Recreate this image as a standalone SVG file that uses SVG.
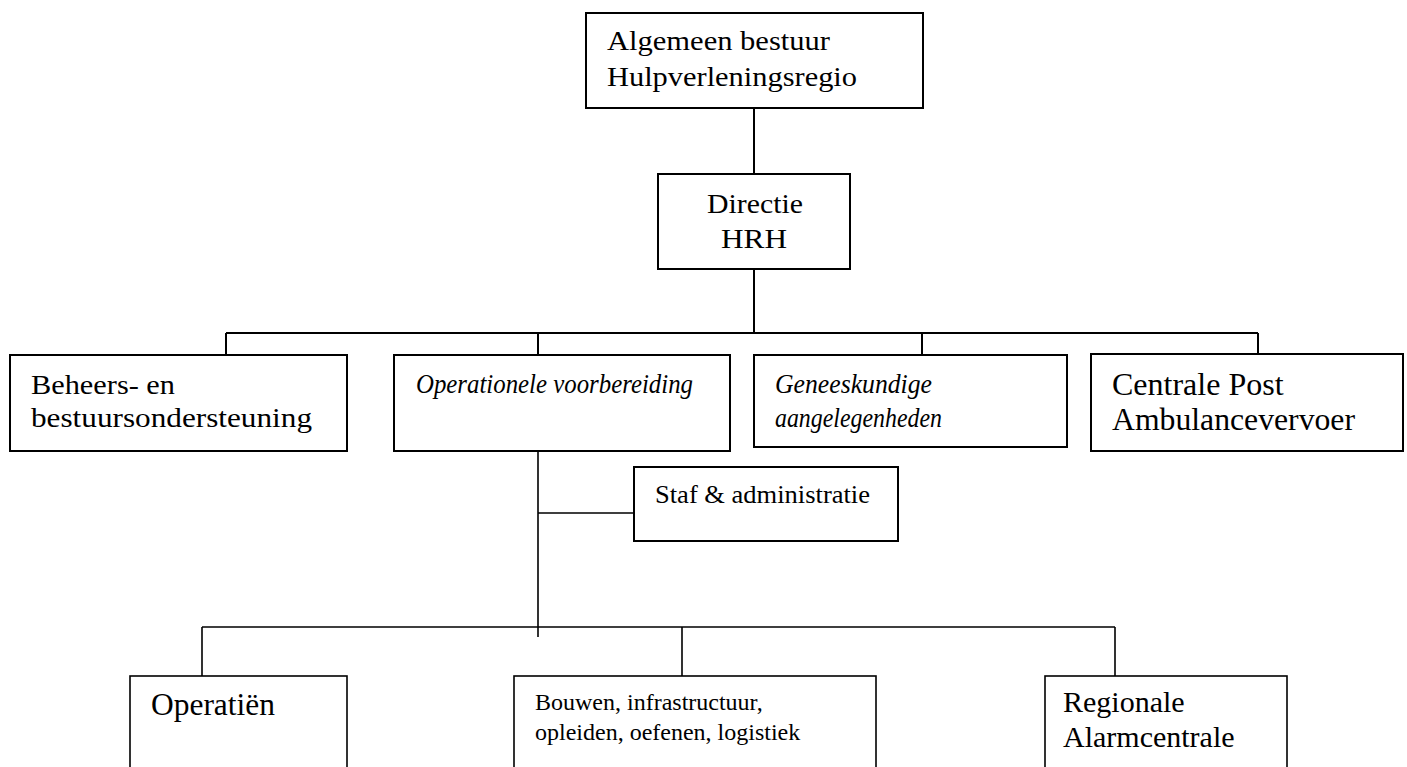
<svg xmlns="http://www.w3.org/2000/svg" width="1407" height="767" viewBox="0 0 1407 767">
<style>
.box{fill:#fff;stroke:#000;stroke-width:2}
.box2{fill:#fff;stroke:#000;stroke-width:1.6}
.ln{stroke:#000;stroke-width:2;fill:none}
.ln2{stroke:#000;stroke-width:1.6;fill:none}
.g{font-family:"Liberation Serif","Times New Roman",serif;font-size:28px;fill:#000}
.gi{font-family:"Liberation Serif","Times New Roman",serif;font-size:27px;font-style:italic;fill:#000}
.t{font-family:"Liberation Serif","Times New Roman",serif;fill:#000}
</style>
<rect width="1407" height="767" fill="#fff"/>
<g id="connectors">
<path class="ln" d="M754 108V174M754 269V333M226 333H1258M226 333V355M538 333V355M922 333V355M1258 333V354"/>
<path class="ln2" d="M538 451V637M538 513H634M202 627H1115M202 627V676M682 627V676M1115 627V676"/>
</g>
<g id="n-algemeen">
<rect class="box" x="586" y="13" width="337" height="95"/>
<text class="g" x="607" y="50" textLength="223" lengthAdjust="spacingAndGlyphs">Algemeen bestuur</text>
<text class="g" x="607" y="86" textLength="250" lengthAdjust="spacingAndGlyphs">Hulpverleningsregio</text>
</g>
<g id="n-directie">
<rect class="box" x="658" y="174" width="192" height="95"/>
<text class="g" x="707" y="213" textLength="96" lengthAdjust="spacingAndGlyphs">Directie</text>
<text class="g" x="721" y="248" textLength="66" lengthAdjust="spacingAndGlyphs">HRH</text>
</g>
<g id="n-beheers">
<rect class="box" x="10" y="355" width="337" height="96"/>
<text class="g" x="31" y="394" textLength="144" lengthAdjust="spacingAndGlyphs">Beheers- en</text>
<text class="g" x="31" y="427" textLength="281" lengthAdjust="spacingAndGlyphs">bestuursondersteuning</text>
</g>
<g id="n-operationele">
<rect class="box" x="394" y="355" width="336" height="96"/>
<text class="gi" x="416" y="393" textLength="277" lengthAdjust="spacingAndGlyphs">Operationele voorbereiding</text>
</g>
<g id="n-geneeskundige">
<rect class="box" x="754" y="355" width="313" height="92"/>
<text class="gi" x="775" y="393" textLength="157" lengthAdjust="spacingAndGlyphs">Geneeskundige</text>
<text class="gi" x="775" y="427" textLength="167" lengthAdjust="spacingAndGlyphs">aangelegenheden</text>
</g>
<g id="n-centrale">
<rect class="box" x="1091" y="354" width="312" height="97"/>
<text class="t" x="1112" y="395" font-size="32">Centrale Post</text>
<text class="t" x="1112" y="430" font-size="32" textLength="243" lengthAdjust="spacingAndGlyphs">Ambulancevervoer</text>
</g>
<g id="n-staf">
<rect class="box" x="634" y="467" width="264" height="74"/>
<text class="t" x="655" y="503" font-size="26" textLength="215" lengthAdjust="spacingAndGlyphs">Staf &amp; administratie</text>
</g>
<g id="n-operatien">
<rect class="box2" x="130" y="676" width="217" height="130"/>
<text class="t" x="151" y="715" font-size="31" textLength="124" lengthAdjust="spacingAndGlyphs">Operatiën</text>
</g>
<g id="n-bouwen">
<rect class="box2" x="514" y="676" width="362" height="130"/>
<text class="t" x="535" y="710" font-size="24">Bouwen, infrastructuur,</text>
<text class="t" x="535" y="740" font-size="24">opleiden, oefenen, logistiek</text>
</g>
<g id="n-regionale">
<rect class="box2" x="1045" y="676" width="242" height="130"/>
<text class="t" x="1063" y="712" font-size="30">Regionale</text>
<text class="t" x="1063" y="747" font-size="30">Alarmcentrale</text>
</g>
</svg>
